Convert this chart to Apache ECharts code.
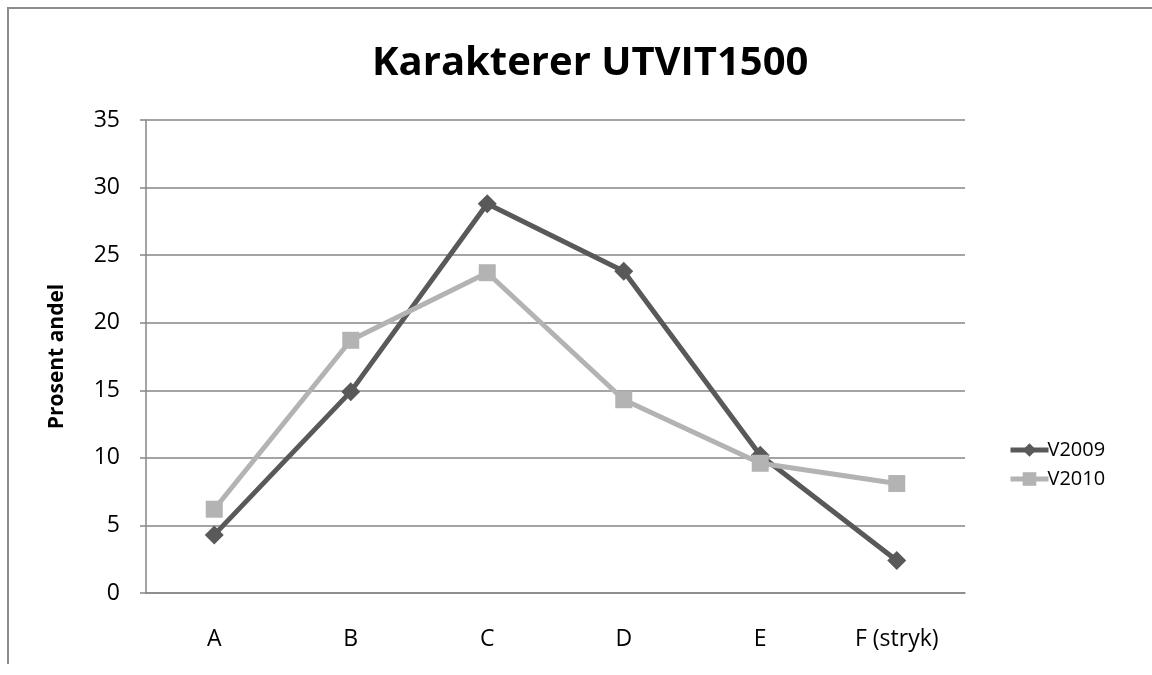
<!DOCTYPE html>
<html>
<head>
<meta charset="utf-8">
<script src="https://cdn.jsdelivr.net/npm/echarts@6/dist/echarts.min.js"></script>
<style>
  html, body { margin: 0; padding: 0; background: #fff; }
  #frame {
    position: absolute; left: 7px; top: 7px; width: 1145px; height: 655px;
    border-top: 2px solid #8c8c8c; border-left: 2px solid #8c8c8c;
  }
  #chart { position: absolute; left: 0; top: 0; width: 1152px; height: 675px; }
</style>
</head>
<body>
<div id="frame"></div>
<div id="chart"></div>
<script>
// data
const categories = ['A', 'B', 'C', 'D', 'E', 'F (stryk)'];
const v2009 = [4.3, 14.9, 28.8, 23.8, 10.2, 2.4];
const v2010 = [6.2, 18.7, 23.7, 14.3, 9.6, 8.1];
const yTicks = { min: 0, max: 35, interval: 5 };

const fontFamily = "'Open Sans', 'Liberation Sans', sans-serif";
const axisGray = '#868686';

const chart = echarts.init(document.getElementById('chart'));

chart.setOption({
  animation: false,
  title: {
    text: 'Karakterer UTVIT1500',
    left: 367,
    top: 39,
    textStyle: { fontFamily: fontFamily, fontSize: 40, fontWeight: 'bold', color: '#000' }
  },
  legend: {
    orient: 'vertical',
    left: 1003,
    top: 435,
    itemWidth: 38,
    itemHeight: 17,
    itemGap: 9,
    lineStyle: { width: 5 },
    textStyle: { fontFamily: fontFamily, fontSize: 20, color: '#000', padding: [0, 0, 0, -6] },
    data: ['V2009', 'V2010']
  },
  grid: { left: 146, right: 187, top: 120, bottom: 82 },
  xAxis: {
    type: 'category',
    data: categories,
    axisLine: { lineStyle: { color: axisGray, width: 1.5 } },
    axisTick: { show: false },
    axisLabel: { fontFamily: fontFamily, fontSize: 23, color: '#000', margin: 35 }
  },
  yAxis: {
    type: 'value',
    min: yTicks.min,
    max: yTicks.max,
    interval: yTicks.interval,
    name: 'Prosent andel',
    nameLocation: 'middle',
    nameGap: 78,
    nameTextStyle: { fontFamily: fontFamily, fontSize: 21, fontWeight: 'bold', color: '#000' },
    axisLine: { show: true, lineStyle: { color: axisGray, width: 1.5 } },
    axisTick: { show: true, length: 6, lineStyle: { color: axisGray, width: 1.5 } },
    axisLabel: { fontFamily: fontFamily, fontSize: 23, color: '#000', margin: 26 },
    splitLine: { lineStyle: { color: axisGray, width: 1.5 } }
  },
  series: [
    {
      name: 'V2009',
      type: 'line',
      data: v2009,
      symbol: 'diamond',
      symbolSize: 19,
      lineStyle: { color: '#595959', width: 5 },
      itemStyle: { color: '#595959' }
    },
    {
      name: 'V2010',
      type: 'line',
      data: v2010,
      symbol: 'rect',
      symbolSize: 17,
      lineStyle: { color: '#b3b3b3', width: 5 },
      itemStyle: { color: '#b3b3b3' }
    }
  ]
});
</script>
</body>
</html>
